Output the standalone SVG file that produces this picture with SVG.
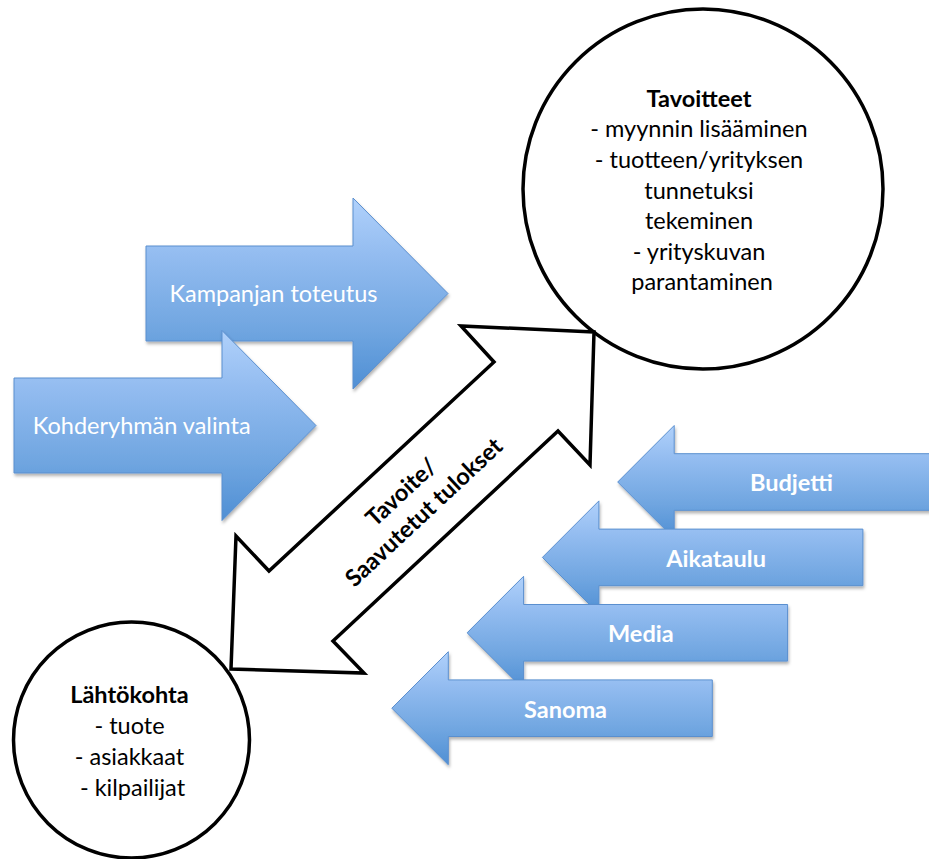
<svg xmlns="http://www.w3.org/2000/svg" width="929" height="859" viewBox="0 0 929 859">
  <style>
    .blk { fill: url(#blueFill); stroke: #5a8fcf; stroke-width: 1; filter: url(#softShadow); }
    .lbl { font-family: Lato, "Open Sans", "Liberation Sans", sans-serif; fill: #ffffff; font-size: 23.5px; }
    .lbl-b { font-family: Lato, "Open Sans", "Liberation Sans", sans-serif; fill: #ffffff; font-size: 23.5px; font-weight: bold; text-anchor: middle; }
    .ring { fill: #ffffff; stroke: #000000; stroke-width: 3.5; }
    .txt { font-family: Lato, "Open Sans", "Liberation Sans", sans-serif; fill: #000000; font-size: 23.5px; text-anchor: middle; }
    .txt .b { font-weight: bold; }
    .dbl { fill: #ffffff; stroke: #000000; stroke-width: 3.5; stroke-linejoin: miter; }
  </style>
  <defs>
    <linearGradient id="blueFill" x1="0" y1="0" x2="0" y2="1">
      <stop offset="0" stop-color="#b0d1fb"/>
      <stop offset="0.3" stop-color="#93bcf0"/>
      <stop offset="0.7" stop-color="#6fa5e0"/>
      <stop offset="1" stop-color="#4f8fd4"/>
    </linearGradient>
    <filter id="softShadow" x="-5%" y="-5%" width="115%" height="120%">
      <feDropShadow dx="1" dy="2.5" stdDeviation="1.5" flood-color="#000000" flood-opacity="0.3"/>
    </filter>
  </defs>

  <rect width="929" height="859" fill="#ffffff"/>

  <!-- Goals circle -->
  <g id="tavoitteet">
    <circle class="ring" cx="703" cy="189" r="180"/>
    <text class="txt">
      <tspan class="b" x="702" y="106.7">Tavoitteet</tspan>
      <tspan x="702" y="137.3">- myynnin lisääminen</tspan>
      <tspan x="702" y="167.9">- tuotteen/yrityksen</tspan>
      <tspan x="702" y="198.5">tunnetuksi</tspan>
      <tspan x="702" y="229.1">tekeminen</tspan>
      <tspan x="702" y="259.7">- yrityskuvan</tspan>
      <tspan x="702" y="290.3">parantaminen</tspan>
    </text>
  </g>

  <!-- Starting point circle -->
  <g id="lahtokohta">
    <circle class="ring" cx="131.5" cy="740" r="118"/>
    <text class="txt">
      <tspan class="b" x="132.5" y="703.3">Lähtökohta</tspan>
      <tspan x="132.5" y="734">- tuote</tspan>
      <tspan x="132.5" y="764.8">- asiakkaat</tspan>
      <tspan x="132.5" y="795.6">- kilpailijat</tspan>
    </text>
  </g>

  <!-- Two-way arrow between starting point and goals -->
  <g id="connectors">
    <path class="dbl" d="M594,332 L461,326 L494,362 L269,571 L236,536 L231,669 L364,673 L333,641 L558,431 L590,465 Z"/>
    <g transform="translate(413.3,501) rotate(-43)">
      <text class="txt" font-weight="bold">
        <tspan x="0" y="-6.5">Tavoite/</tspan>
        <tspan x="0" y="23.5">Saavutetut tulokset</tspan>
      </text>
    </g>
  </g>

  <!-- Right-pointing process arrows -->
  <g id="kampanjan-toteutus">
    <path class="blk" d="M146,246 H353 V198 L448,293.5 L353,389 V341 H146 Z"/>
    <text class="lbl" x="273.5" y="302.3" text-anchor="middle">Kampanjan toteutus</text>
  </g>
  <g id="kohderyhman-valinta">
    <path class="blk" d="M14,378 H222 V330.5 L316,425.5 L222,520.5 V473 H14 Z"/>
    <text class="lbl" x="141.7" y="434" text-anchor="middle">Kohderyhmän valinta</text>
  </g>

  <!-- Left-pointing input arrows -->
  <g id="budjetti">
    <path class="blk" d="M617.7,482 L674.2,425.5 V453.7 H938.2 V510.3 H674.2 V538.5 Z"/>
    <text class="lbl-b" x="791.4" y="491.3">Budjetti</text>
  </g>
  <g id="aikataulu">
    <path class="blk" d="M542.4,557.4 L598.9,500.9 V529.1 H862.9 V585.7 H598.9 V613.9 Z"/>
    <text class="lbl-b" x="716.1" y="566.7">Aikataulu</text>
  </g>
  <g id="media">
    <path class="blk" d="M467.1,632.8 L523.6,576.3 V604.5 H787.6 V661.1 H523.6 V689.3 Z"/>
    <text class="lbl-b" x="640.8" y="642.1">Media</text>
  </g>
  <g id="sanoma">
    <path class="blk" d="M391.8,708.2 L448.3,651.7 V679.9 H712.3 V736.5 H448.3 V764.7 Z"/>
    <text class="lbl-b" x="565.5" y="717.5">Sanoma</text>
  </g>
</svg>
